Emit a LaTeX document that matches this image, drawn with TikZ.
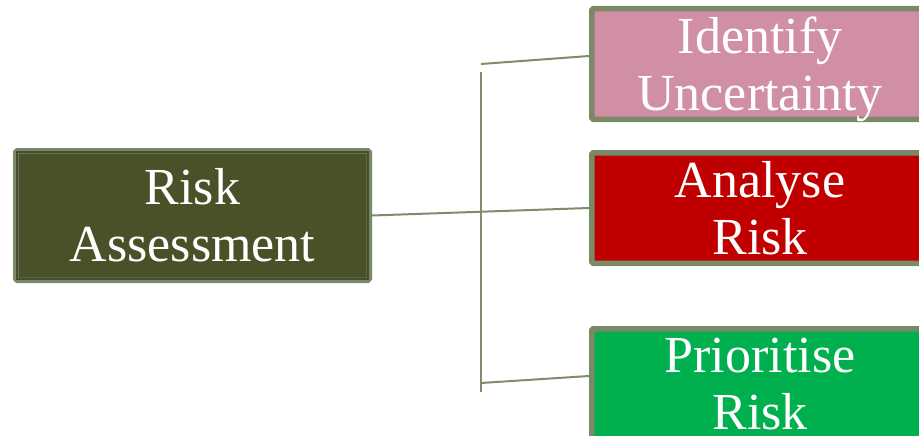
\documentclass[tikz,border=0pt]{standalone}
\usepackage{fontspec}
\setmainfont{Liberation Serif}
\usetikzlibrary{calc}
\definecolor{frame}{HTML}{7A8968}
\definecolor{wire}{HTML}{7F8C6E}
\definecolor{olive}{HTML}{4A5027}
\definecolor{rose}{HTML}{D08FA5}
\definecolor{crimson}{HTML}{C00000}
\definecolor{leaf}{HTML}{00B04F}
\tikzset{
  box/.style={draw=frame, line width=5.5pt, rounded corners=1.5pt, text=white,
    align=center, font=\fontsize{52}{57}\selectfont, inner sep=0pt},
  wirestyle/.style={draw=wire, line width=2pt}
}
\begin{document}
\begin{tikzpicture}[x=1pt, y=-1pt]
  % page and background
  \useasboundingbox (0,0) rectangle (919,436);
  \fill[white] (0,0) rectangle (919,436);

  % main box
  \node[box, fill=olive, minimum width=353.5pt, minimum height=129.5pt]
    (ra) at (192.5,215.5) {Risk\\Assessment};
  % faint inner shading along the frame
  \draw[black!55!olive, line width=2pt, opacity=0.6]
    ($(ra.north west)+(3.75,3.75)$) rectangle ($(ra.south east)+(-3.75,-3.75)$);

  % branch boxes
  \node[box, fill=rose, minimum width=336.5pt, minimum height=110.5pt]
    (iu) at (760,64) {Identify\\\raisebox{0pt}[\height][0pt]{Uncertainty}};
  \node[box, fill=crimson, minimum width=336.5pt, minimum height=110.5pt]
    (ar) at (760,208) {Analyse\\Risk};
  \node[box, fill=leaf, minimum width=336.5pt, minimum height=110.5pt]
    (pr) at (760,384) {Prioritise\\Risk};

  % connector spine
  \coordinate (spinetop) at (481,72);
  \coordinate (spinebot) at (481,392);
  \coordinate (tapa) at (481,64);
  \coordinate (tapc) at (481,383);
  \draw[wirestyle] (spinetop) -- (spinebot);

  % branches
  \draw[wirestyle] (tapa) -- ($(iu.west)+(0,-8)$);
  \draw[wirestyle] (ra.east) -- (ar.west);
  \draw[wirestyle] (tapc) -- ($(pr.west)+(0,-8)$);
\end{tikzpicture}
\end{document}
